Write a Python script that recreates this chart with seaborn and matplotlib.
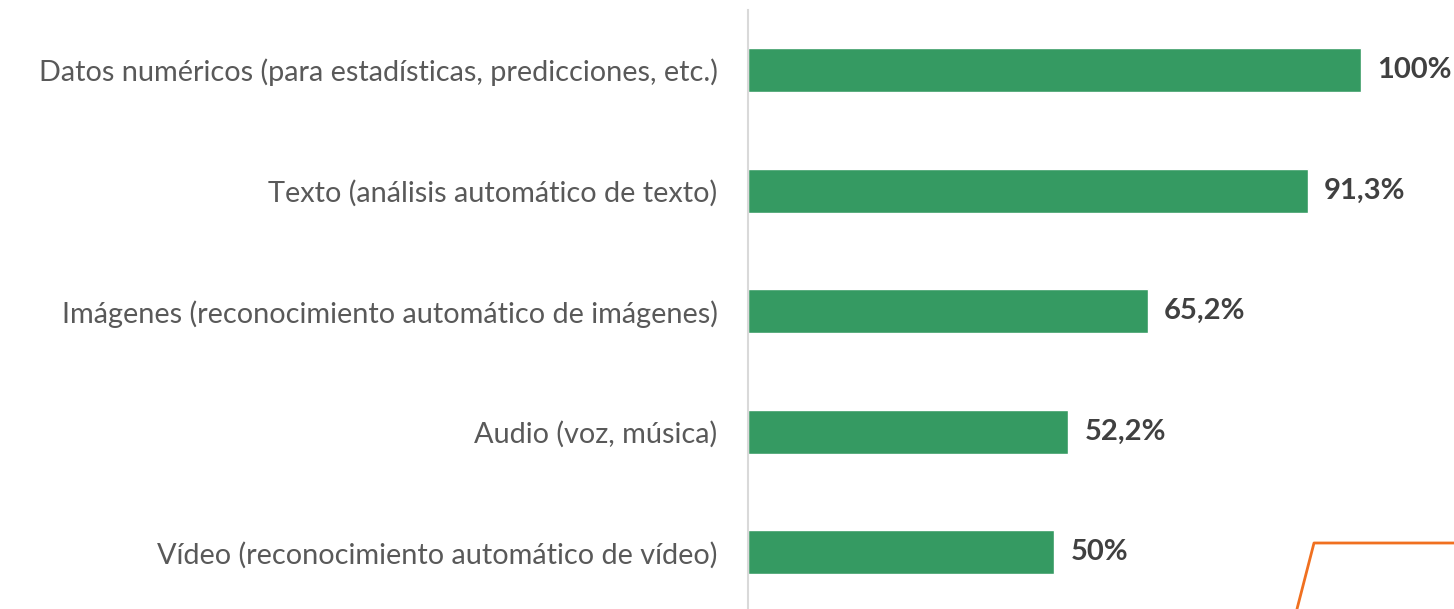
import matplotlib
matplotlib.use("Agg")
import matplotlib.pyplot as plt
from matplotlib.lines import Line2D
import seaborn as sns
import pandas as pd

categorias = [
    "Datos numéricos (para estadísticas, predicciones, etc.)",
    "Texto (análisis automático de texto)",
    "Imágenes (reconocimiento automático de imágenes)",
    "Audio (voz, música)",
    "Vídeo (reconocimiento automático de vídeo)",
]
valores = [100, 91.3, 65.2, 52.2, 50]
etiquetas = ["100%", "91,3%", "65,2%", "52,2%", "50%"]

df = pd.DataFrame({"categoria": categorias, "valor": valores})

sns.set_theme(style="white")
plt.rcParams["font.family"] = ["Lato", "DejaVu Sans"]

fig = plt.figure(figsize=(14.54, 6.09), dpi=100)
ax = fig.add_axes([748 / 1454, -3.7 / 609, 706 / 1454, 603 / 609])

sns.barplot(data=df, x="valor", y="categoria", color="#359A62", saturation=1,
            width=0.365, ax=ax)

ax.set_xlim(0, 115.2)
ax.set_ylim(4.5, -0.5)
ax.set_xlabel("")
ax.set_ylabel("")
ax.set_xticks([])
for s in ["top", "right", "bottom"]:
    ax.spines[s].set_visible(False)
ax.spines["left"].set_color("#d9d9d9")
ax.spines["left"].set_linewidth(1.5)
ax.tick_params(axis="y", length=0, pad=22, labelsize=20.8, labelcolor="#595959")

for i, (v, t) in enumerate(zip(valores, etiquetas)):
    ax.annotate(t, (v, i), xytext=(12, 0), textcoords="offset points",
                va="center", ha="left", fontsize=21, fontweight="bold",
                color="#404040")

# trazo naranja decorativo en la esquina
fig.add_artist(Line2D([1297 / 1454, 1314 / 1454, 1.0], [0, 66 / 609, 66 / 609],
                      color="#F07020", lw=2, transform=fig.transFigure))

fig.savefig("out.png", dpi=100)
